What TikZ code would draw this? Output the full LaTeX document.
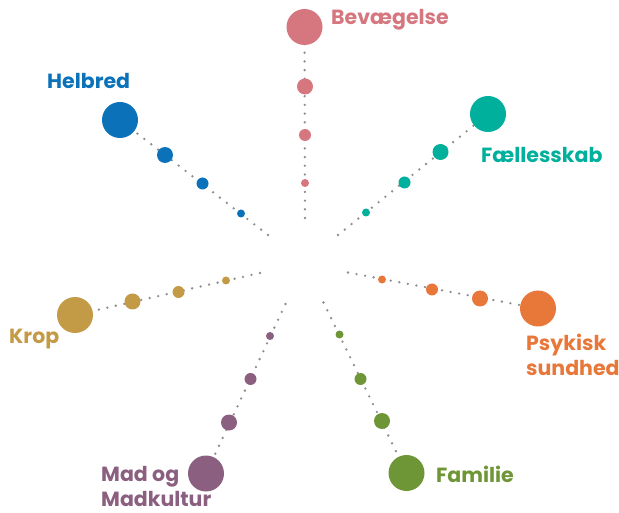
\documentclass[tikz,border=0pt]{standalone}
\usepackage{fontspec}
\setmainfont{Poppins}
\definecolor{cBev}{HTML}{D67780}
\definecolor{cHel}{HTML}{0B72B9}
\definecolor{cFae}{HTML}{00B09C}
\definecolor{cKro}{HTML}{C39A46}
\definecolor{cPsy}{HTML}{E8773A}
\definecolor{cMad}{HTML}{8B5F80}
\definecolor{cFam}{HTML}{6F9636}
\definecolor{cDot}{HTML}{8E8E8E}
\tikzset{
  dotline/.style={draw=cDot, line width=2.6pt, line cap=round, dash pattern=on 0pt off 8.7pt},
  bigc/.style={circle, fill=#1, inner sep=0pt, minimum size=36pt},
  midc/.style={circle, fill=#1, inner sep=0pt, minimum size=16pt},
  smlc/.style={circle, fill=#1, inner sep=0pt, minimum size=12pt},
  tinc/.style={circle, fill=#1, inner sep=0pt, minimum size=8pt},
  lbl/.style={text=#1, font=\fontsize{20.5}{25}\selectfont\bfseries, inner sep=0pt, align=left}
}
\begin{document}
\begin{tikzpicture}[x=1pt,y=-1pt]
\useasboundingbox (0,0) rectangle (619,513);
% centres and inner ends
\coordinate (bev0) at (305,218);  \coordinate (bevA) at (304.5,27);
\coordinate (hel0) at (268,235);  \coordinate (helA) at (120,120);
\coordinate (fae0) at (338,235);  \coordinate (faeA) at (488,114);
\coordinate (kro0) at (260,273);  \coordinate (kroA) at (75,315);
\coordinate (psy0) at (348,272.5);\coordinate (psyA) at (538,308.5);
\coordinate (mad0) at (285.5,304);\coordinate (madA) at (206,473.5);
\coordinate (fam0) at (323.5,302.5);\coordinate (famA) at (406.5,473);
% dotted spokes
\draw[dotline] (bev0) -- (bevA);
\draw[dotline] (hel0) -- (helA);
\draw[dotline] (fae0) -- (faeA);
\draw[dotline] (kro0) -- (kroA);
\draw[dotline] (psy0) -- (psyA);
\draw[dotline] (mad0) -- (madA);
\draw[dotline] (fam0) -- (famA);
% Bevægelse
\node[bigc=cBev] (bev1) at (bevA) {};
\node[midc=cBev] (bev2) at (305,86.5) {};
\node[smlc=cBev] (bev3) at (305,135) {};
\node[tinc=cBev] (bev4) at (305,183) {};
\node[lbl=cBev, anchor=west] (bevL) at (331,20) {Bevægelse};
% Helbred
\node[bigc=cHel] (hel1) at (helA) {};
\node[midc=cHel] (hel2) at (165,155) {};
\node[smlc=cHel] (hel3) at (202.5,183.5) {};
\node[tinc=cHel] (hel4) at (241,213.5) {};
\node[lbl=cHel, anchor=west] (helL) at (47,80.5) {Helbred};
% Fællesskab
\node[bigc=cFae] (fae1) at (faeA) {};
\node[midc=cFae] (fae2) at (440.5,152) {};
\node[smlc=cFae] (fae3) at (404.5,182.5) {};
\node[tinc=cFae] (fae4) at (366,212.5) {};
\node[lbl=cFae, anchor=west] (faeL) at (481,155) {Fællesskab};
% Krop
\node[bigc=cKro] (kro1) at (kroA) {};
\node[midc=cKro] (kro2) at (132.5,301.5) {};
\node[smlc=cKro] (kro3) at (178.5,292) {};
\node[tinc=cKro] (kro4) at (226,280.5) {};
\node[lbl=cKro, anchor=west] (kroL) at (9,339) {Krop};
% Psykisk sundhed
\node[bigc=cPsy] (psy1) at (psyA) {};
\node[midc=cPsy] (psy2) at (480,298.5) {};
\node[smlc=cPsy] (psy3) at (432,289.5) {};
\node[tinc=cPsy] (psy4) at (382,279.5) {};
\node[lbl=cPsy, anchor=north west] (psyL) at (526,334) {Psykisk\\sundhed};
% Mad og Madkultur
\node[bigc=cMad] (mad1) at (madA) {};
\node[midc=cMad] (mad2) at (229,422.5) {};
\node[smlc=cMad] (mad3) at (250.5,379) {};
\node[tinc=cMad] (mad4) at (270,336) {};
\node[lbl=cMad, anchor=north west] (madL) at (101,466) {Mad og\\Madkultur};
% Familie
\node[bigc=cFam] (fam1) at (famA) {};
\node[midc=cFam] (fam2) at (382,421) {};
\node[smlc=cFam] (fam3) at (360.5,379) {};
\node[tinc=cFam] (fam4) at (339.5,334.5) {};
\node[lbl=cFam, anchor=west] (famL) at (436,474.5) {Familie};
\end{tikzpicture}
\end{document}
